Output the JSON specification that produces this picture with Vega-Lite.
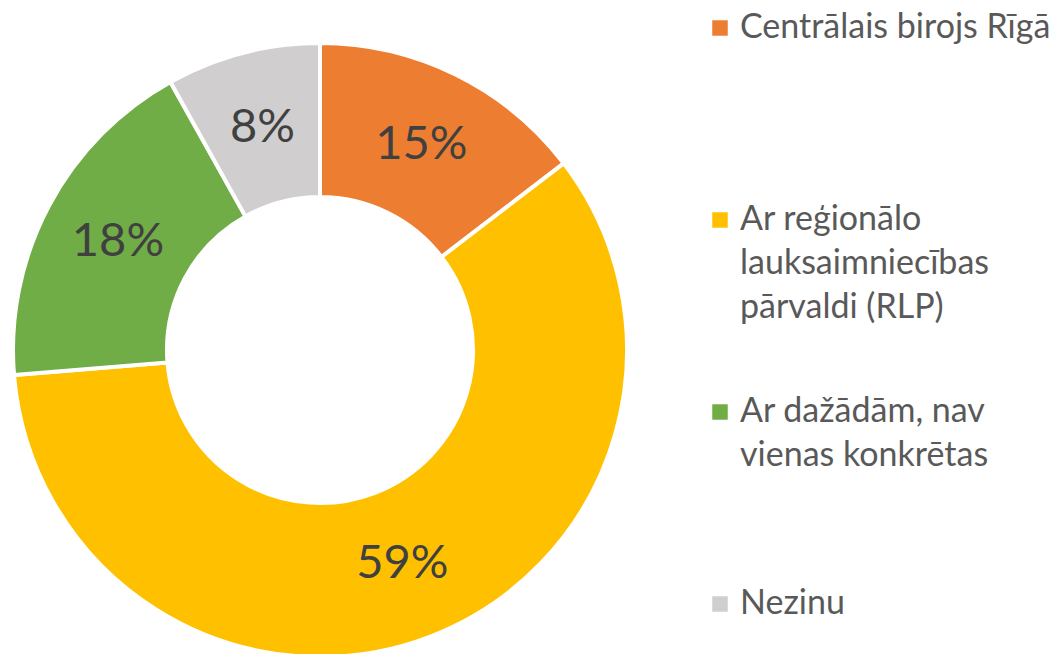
{
  "$schema": "https://vega.github.io/schema/vega-lite/v6.json",
  "width": 640,
  "height": 700,
  "autosize": {"type": "none"},
  "padding": {"left": 0, "top": 0, "right": 423, "bottom": 0},
  "background": "white",
  "config": {"view": {"stroke": null}, "font": "Lato", "style": {"guide-label": {"lineHeight": 44}}},
  "data": {
    "values": [
      {"kategorija": "Centrālais birojs Rīgā", "ord": 1, "vertiba": 14.6, "teksts": "15%"},
      {"kategorija": "Ar reģionālo|lauksaimniecības|pārvaldi (RLP)", "ord": 2, "vertiba": 59.1, "teksts": "59%"},
      {"kategorija": "Ar dažādām, nav|vienas konkrētas", "ord": 3, "vertiba": 18.2, "teksts": "18%"},
      {"kategorija": "Nezinu", "ord": 4, "vertiba": 8.1, "teksts": "8%"}
    ]
  },
  "encoding": {
    "theta": {"field": "vertiba", "type": "quantitative", "stack": true},
    "order": {"field": "ord", "type": "quantitative"},
    "color": {
      "field": "kategorija",
      "type": "nominal",
      "scale": {
        "domain": ["Centrālais birojs Rīgā", "Ar reģionālo|lauksaimniecības|pārvaldi (RLP)", "Ar dažādām, nav|vienas konkrētas", "Nezinu"],
        "range": ["#ED7D31", "#FFC000", "#70AD47", "#D0CECE"]
      },
      "legend": {
        "title": null,
        "orient": "right",
        "offset": 52,
        "padding": 11,
        "symbolType": "square",
        "symbolSize": 240,
        "symbolStrokeWidth": 0,
        "labelFont": "Lato",
        "labelFontSize": 34,
        "labelColor": "#595959",
        "labelOffset": 3,
        "labelLimit": 500,
        "labelBaseline": "middle",
        "gridAlign": "all",
        "rowPadding": 70,
        "labelExpr": "split(datum.label, '|')"
      }
    }
  },
  "layer": [
    {
      "mark": {"type": "arc", "outerRadius": 307, "innerRadius": 153, "stroke": "white", "strokeWidth": 4}
    },
    {
      "mark": {"type": "text", "radius": 229, "fontSize": 47, "font": "Lato", "color": "#404040", "baseline": "middle", "align": "center"},
      "encoding": {"text": {"field": "teksts", "type": "nominal"}, "color": {"value": "#404040"}}
    }
  ]
}
